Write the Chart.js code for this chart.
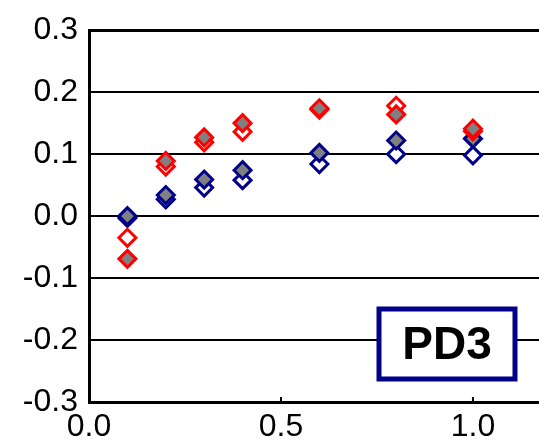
<!DOCTYPE html>
<html>
<head>
<meta charset="utf-8">
<script src="https://cdn.jsdelivr.net/npm/chart.js@4"></script>
<style>
    html, body { margin: 0; padding: 0; background: #fff; }
    canvas { display: block; }
</style>
</head>
<body>
<canvas id="pd3Chart" width="539" height="444"></canvas>
<script>
// concentrations along x, same for every series
const xValues = [0.1, 0.2, 0.3, 0.4, 0.6, 0.8, 1.0];
const redFilled = [-0.069, 0.089, 0.127, 0.150, 0.174, 0.164, 0.141];
const redOpen = [-0.035, 0.080, 0.119, 0.136, 0.172, 0.178, 0.137];
const blueFilled = [0.000, 0.034, 0.059, 0.074, 0.102, 0.122, 0.125];
const blueOpen = [-0.003, 0.027, 0.046, 0.058, 0.084, 0.100, 0.098];
const yTicks = [-0.3, -0.2, -0.1, 0.0, 0.1, 0.2, 0.3];
const xTicks = [0.0, 0.5, 1.0];
const panelLabel = 'PD3';

(function () {
    const ctx = document.getElementById('pd3Chart');
    if (!ctx || typeof Chart === 'undefined') {
        return;
    }

    const colors = {
        red: '#ff0000',
        navy: '#000088',
        gray: '#808080',
        white: '#ffffff',
        text: '#000000'
    };
    const fontFamily = "Arial, 'Liberation Sans', sans-serif";

    function toPoints(values) {
        return values.map(function (v, i) {
            return { x: xValues[i], y: v };
        });
    }

    function makeSeries(label, values, border, fill, order) {
        return {
            label: label,
            data: toPoints(values),
            showLine: false,
            pointStyle: 'rectRot',
            pointRadius: 8.5,
            pointHoverRadius: 8.5,
            borderWidth: 3,
            pointBorderColor: border,
            pointBackgroundColor: fill,
            borderColor: border,
            backgroundColor: fill,
            order: order
        };
    }

    // short inward tick marks on the x axis and the PD3 label box
    const decorations = {
        id: 'decorations',
        afterDraw: function (chart) {
            const c = chart.ctx;
            const xs = chart.scales.x;
            const bottom = chart.chartArea.bottom;
            c.save();
            c.strokeStyle = '#000';
            c.lineWidth = 2;
            xTicks.forEach(function (t) {
                if (t === 0) return;
                const px = xs.getPixelForValue(t);
                c.beginPath();
                c.moveTo(px, bottom);
                c.lineTo(px, bottom - 5);
                c.stroke();
            });

            const bx = 379, by = 309, bw = 136, bh = 70;
            c.fillStyle = colors.white;
            c.fillRect(bx, by, bw, bh);
            c.strokeStyle = colors.navy;
            c.lineWidth = 5;
            c.strokeRect(bx, by, bw, bh);
            c.fillStyle = colors.text;
            c.font = 'bold 46px ' + fontFamily;
            c.textAlign = 'center';
            c.textBaseline = 'middle';
            c.fillText(panelLabel, bx + bw / 2, by + bh / 2 + 2);
            c.restore();
        }
    };

    new Chart(ctx.getContext('2d'), {
        type: 'scatter',
        data: {
            datasets: [
                makeSeries('red filled', redFilled, colors.red, colors.gray, 0),
                makeSeries('red open', redOpen, colors.red, colors.white, 1),
                makeSeries('blue filled', blueFilled, colors.navy, colors.gray, 2),
                makeSeries('blue open', blueOpen, colors.navy, colors.white, 3)
            ]
        },
        options: {
            responsive: false,
            animation: false,
            layout: { autoPadding: false, padding: { top: 29, right: 0, left: 0, bottom: 0 } },
            plugins: {
                legend: { display: false },
                tooltip: { enabled: false }
            },
            scales: {
                x: {
                    type: 'linear',
                    min: 0,
                    max: 1.172,
                    afterFit: function (scale) {
                        scale.height = 42;
                    },
                    afterBuildTicks: function (scale) {
                        scale.ticks = xTicks.map(function (v) { return { value: v }; });
                    },
                    grid: { display: true, drawOnChartArea: false, drawTicks: false },
                    border: { display: true, color: '#000', width: 3 },
                    ticks: {
                        padding: 6,
                        color: colors.text,
                        font: { family: fontFamily, size: 32 },
                        maxRotation: 0,
                        callback: function (value) { return Number(value).toFixed(1); }
                    }
                },
                y: {
                    type: 'linear',
                    min: -0.3,
                    max: 0.3,
                    afterFit: function (scale) { scale.width = 89; },
                    afterBuildTicks: function (scale) {
                        scale.ticks = yTicks.map(function (v) { return { value: v }; });
                    },
                    grid: {
                        color: '#000',
                        lineWidth: function (c) {
                            return c.tick && c.tick.value > 0.29 ? 3 : 2;
                        },
                        drawTicks: false
                    },
                    border: { display: true, color: '#000', width: 3 },
                    ticks: {
                        padding: 11,
                        color: colors.text,
                        font: { family: fontFamily, size: 32 },
                        callback: function (value) { return Number(value).toFixed(1); }
                    }
                }
            }
        },
        plugins: [decorations]
    });
})();
</script>
</body>
</html>
